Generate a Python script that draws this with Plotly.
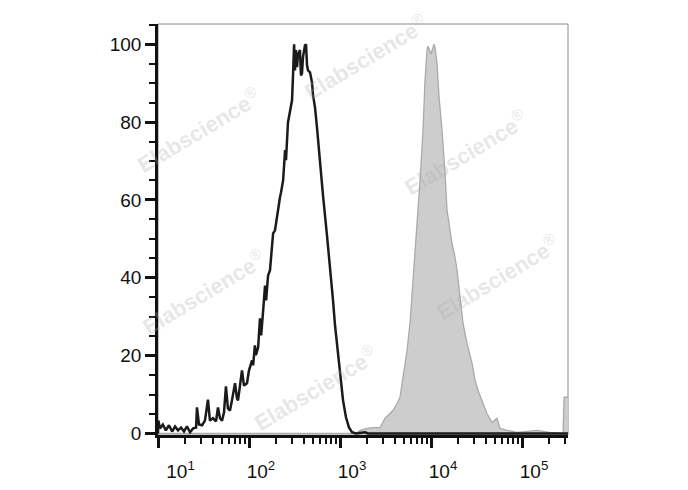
import plotly.graph_objects as go

# ---- data ----
black_x = [10.0, 10.1, 10.5, 11.3, 12.2, 13.2, 14.3, 15.4, 16.6, 17.9, 19.3, 20.8, 22.5, 24.3,
           26.2, 26.8, 28.2, 30.5, 32.8, 35.4, 37.2, 40.2, 43.4, 45.6, 48.0, 50.5, 53.1, 55.8,
           58.7, 61.8, 65.0, 70.2, 73.8, 75.7, 79.6, 83.7, 88.1, 95.0, 100, 108, 111, 116, 119,
           126, 132, 136, 143, 150, 154, 162, 170, 179, 184, 193, 203, 208, 219, 225, 237, 249,
           255, 268, 282, 297, 305, 313, 320, 328, 337, 345, 363, 372, 382, 392, 412, 423, 434,
           445, 468, 492, 505, 531, 558, 603, 650, 719, 776, 838, 881, 927, 1000, 1079, 1164,
           1256, 1355, 1500, 1884, 2032, 3000, 10000, 100000, 319900]
black_y = [0, 3.3, 1.3, 2.3, 0.8, 2.1, 0.5, 1.8, 0.8, 1.5, 0.5, 1.8, 0.3, 1.3,
           1.5, 6.7, 2.3, 2.1, 3.3, 8.7, 3.3, 3.9, 3.1, 6.7, 3.9, 3.3, 5.4, 12.1,
           6.4, 5.9, 8.5, 12.9, 9.0, 8.5, 12.3, 16.2, 12.3, 12.9, 16.2, 18.8, 17.5, 22.6, 20.1,
           22.1, 29.6, 25.2, 31.6, 38.0, 34.2, 40.6, 41.9, 48.3, 51.4, 52.2, 56.0, 56.6, 60.7,
           62.0, 65.0, 72.8, 70.2, 79.9, 82.5, 85.6, 92.5, 100, 93.3, 98.5, 94.1, 97.2, 98.5,
           92.0, 92.5, 96.7, 99.7, 100, 94.6, 93.3, 92.8, 90.2, 86.9, 83.8, 78.7, 68.9, 61.2,
           50.9, 43.2, 34.2, 27.8, 22.6, 14.9, 8.5, 4.1, 1.5, 0.3, 0, 0.3, 0, 0, 0, 0, 0]

gray_x = [10, 1500, 1660, 1982, 2307, 2754, 3126, 3543, 3822, 4227, 4560, 4920, 5446, 5875,
          6340, 7015, 7568, 8166, 8590, 9036, 9268, 10000, 10520, 10790, 11070, 11640, 12250,
          13210, 14250, 14990, 15770, 17020, 18370, 19320, 20840, 22490, 24880, 28250, 30480,
          32810, 37240, 41210, 46770, 53080, 57280, 68390, 88100, 146200, 200000, 261800,
          282400, 289700, 319900]
gray_y = [0, 0, 0.8, 1.3, 1.5, 1.5, 3.9, 5.1, 5.9, 7.7, 9.3, 14.4, 21.3, 28.3,
          38.6, 52.2, 65.0, 77.9, 90.7, 98.5, 99.5, 97.5, 99.5, 100, 99.0, 95.1, 86.4,
          77.9, 66.8, 57.3, 54.0, 48.8, 45.2, 41.9, 35.0, 28.3, 23.1, 18.0, 13.6,
          11.1, 7.7, 5.1, 2.8, 3.9, 1.3, 0.8, 0.3, 0.8, 0.3, 0,
          0, 9.3, 9.3]

x_major = [10, 100, 1000, 10000, 100000]
x_exponents = ["1", "2", "3", "4", "5"]
x_labels = [("&nbsp;&nbsp;&nbsp;&nbsp;" if i == 0 else "") + "10<sup>" + e + "</sup>"
            for i, e in enumerate(x_exponents)]
x_minor = [m * 10 ** k for k in range(1, 5) for m in range(2, 10)] + [200000, 300000]
y_major = [0, 20, 40, 60, 80, 100]
y_minor = [v for v in range(5, 110, 5) if v % 20 != 0]

watermark_pos = [(0.505, 0.92), (0.098, 0.742), (0.751, 0.689),
                 (0.110, 0.348), (0.827, 0.384), (0.383, 0.114)]

fig = go.Figure()
fig.add_trace(go.Scatter(x=gray_x, y=gray_y, mode="lines", fill="tozeroy",
                         fillcolor="#cdcdcd", line=dict(color="#aaaaaa", width=1.3),
                         hoverinfo="skip", showlegend=False))
fig.add_trace(go.Scatter(x=black_x, y=black_y, mode="lines",
                         line=dict(color="#1a1a1a", width=2.5),
                         hoverinfo="skip", showlegend=False))

fig.update_layout(
    width=688, height=490,
    margin=dict(l=150, r=128, t=16, b=63),
    paper_bgcolor="white", plot_bgcolor="white",
    shapes=[dict(type="rect", xref="paper", yref="paper", x0=0, x1=1, y0=0, y1=1,
                 line=dict(color="#8a8a8a", width=1), layer="below")],
)

axis_font = dict(family="Liberation Sans", size=19, color="#111111")
fig.update_xaxes(
    type="log", range=[1, 5.505],
    tickmode="array", tickvals=x_major, ticktext=x_labels,
    ticks="outside", ticklen=10, tickwidth=3, tickcolor="#111111",
    showline=True, linewidth=2.5, linecolor="#111111",
    showgrid=False, zeroline=False, tickfont=axis_font,
    ticklabelshift=12, ticklabelstandoff=7,
    minor=dict(tickmode="array", tickvals=x_minor, ticks="outside", ticklen=6,
               tickwidth=2, tickcolor="#111111", showgrid=False),
)
fig.update_yaxes(
    range=[-0.4, 105.2],
    tickmode="array", tickvals=y_major,
    ticks="outside", ticklen=10, tickwidth=3, tickcolor="#111111",
    showline=True, linewidth=2.5, linecolor="#111111",
    showgrid=False, zeroline=False, tickfont=axis_font,
    minor=dict(tickmode="array", tickvals=y_minor, ticks="outside", ticklen=6,
               tickwidth=2, tickcolor="#111111", showgrid=False),
)

for (px, py) in watermark_pos:
    fig.add_annotation(x=px, y=py, xref="paper", yref="paper",
                       xanchor="center", yanchor="middle",
                       text="<b>Elabscience</b><sup>®</sup>", showarrow=False, textangle=-31,
                       font=dict(family="Liberation Sans", size=22,
                                 color="rgba(170,170,170,0.3)"))

fig.write_html("out.html")
